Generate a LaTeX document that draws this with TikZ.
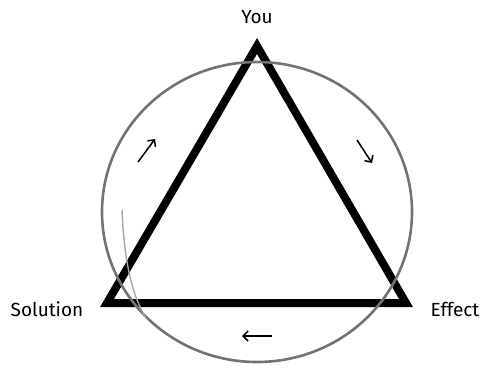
\documentclass[tikz,border=0pt]{standalone}
\usepackage{fontspec}
\setmainfont{Fira Sans}
\usetikzlibrary{arrows.meta}

\begin{document}
\begin{tikzpicture}[x=1pt, y=-1pt,
  side/.style={line width=8pt, line join=miter},
  ring/.style={draw=black!55, line width=2.6pt},
  label/.style={anchor=base, font=\fontsize{19}{22}\selectfont},
  cue/.style={-{Straight Barb[length=5pt, width=10pt]}, line width=1.5pt}
]
\useasboundingbox (0,0) rectangle (484,378);
% triangle corners
\coordinate (top) at (257,46);
\coordinate (left) at (107,303);
\coordinate (right) at (406,303);
\draw[side] (top) -- (left) -- (right) -- cycle;
% brush circle
\draw[ring] (257,212) ellipse [x radius=155, y radius=150];
\draw[ring, draw=black!35, line width=1.4pt] (122,210) .. controls (124,255) and (130,292) .. (146,318);
% labels
\node[label] (you) at (257,23) {You};
\node[label] (solution) at (47,316) {Solution};
\node[label] (effect) at (455,316) {Effect};
% direction cues
\coordinate (upA) at (138,162);
\coordinate (upB) at (155,139);
\coordinate (downA) at (357,140);
\coordinate (downB) at (372,163);
\coordinate (backA) at (272,336);
\coordinate (backB) at (242,336);
\draw[cue] (upA) -- (upB);
\draw[cue] (downA) -- (downB);
\draw[cue] (backA) -- (backB);
\end{tikzpicture}
\end{document}
